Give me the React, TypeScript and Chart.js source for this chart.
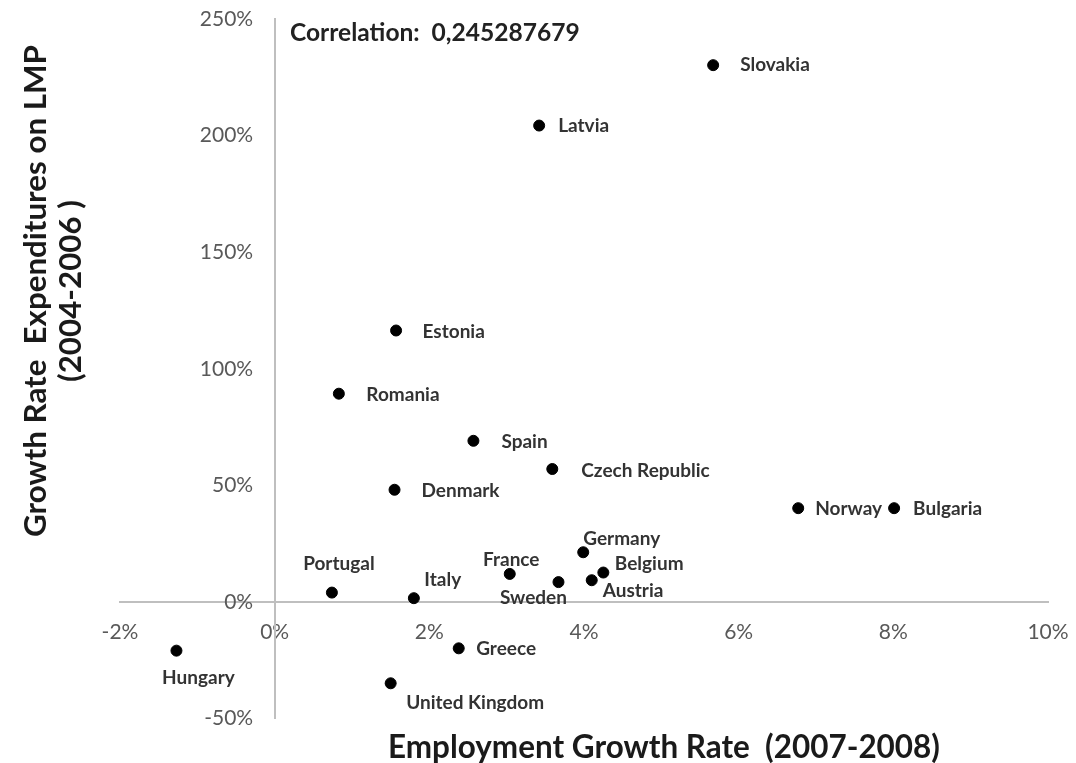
import React, { useEffect, useRef } from "react";
import { Chart, registerables } from "chart.js";

Chart.register(...registerables);

// ---- data ----
const countries = [
  "Slovakia", "Latvia", "Estonia", "Romania", "Spain", "Czech Republic", "Denmark",
  "Norway", "Bulgaria", "Germany", "Belgium", "France", "Sweden", "Austria",
  "Portugal", "Italy", "Greece", "Hungary", "United Kingdom",
];
// Employment growth rate 2007-2008, in %
const employmentGrowth = [
  5.67, 3.42, 1.57, 0.83, 2.57, 3.59, 1.55,
  6.77, 8.01, 3.99, 4.25, 3.04, 3.67, 4.10,
  0.74, 1.80, 2.38, -1.27, 1.50,
];
// Growth rate of expenditures on LMP 2004-2006, in %
const lmpGrowth = [
  230.2, 204.3, 116.4, 89.3, 69.1, 57.0, 48.1,
  40.2, 40.2, 21.3, 12.6, 12.0, 8.5, 9.3,
  4.0, 1.6, -19.9, -20.9, -34.9,
];
const xTickValues = [-2, 0, 2, 4, 6, 8, 10];
const yTickValues = [-50, 0, 50, 100, 150, 200, 250];
const xTitle = "Employment Growth Rate  (2007-2008)";
const yTitleLines = ["Growth Rate  Expenditures on LMP", "(2004-2006 )"];
const correlationText = "Correlation:  0,245287679";

// ---- label placement (style only): [dx, dy, align] relative to the point ----
const labelPlacement: Record<string, [number, number, CanvasTextAlign]> = {
  Slovakia: [27, 0, "left"],
  Latvia: [19, 0.5, "left"],
  Estonia: [26.5, 1, "left"],
  Romania: [27.5, 1.5, "left"],
  Spain: [28, 1, "left"],
  "Czech Republic": [29, 1.5, "left"],
  Denmark: [27, 1.5, "left"],
  Norway: [17, 1, "left"],
  Bulgaria: [19, 1, "left"],
  Germany: [0, -13.5, "left"],
  Belgium: [11.5, -8.5, "left"],
  France: [1.5, -14.5, "center"],
  Sweden: [-25, 15.5, "center"],
  Austria: [11, 10.5, "left"],
  Portugal: [7, -28.5, "center"],
  Italy: [10.5, -18.5, "left"],
  Greece: [17.5, 1, "left"],
  Hungary: [22, 27, "center"],
  "United Kingdom": [15.5, 20, "left"],
};

const FONT = "Lato, 'Open Sans', 'DejaVu Sans', sans-serif";
const Y_LABEL_GAP = "    "; // visual gap between y tick labels and the vertical axis

function fitSize(ctx: CanvasRenderingContext2D, text: string, weight: string, target: number) {
  ctx.font = `${weight} 100px ${FONT}`;
  const w = ctx.measureText(text).width;
  return (100 * target) / w;
}

const labelsPlugin = {
  id: "countryLabels",
  afterDatasetsDraw(chart: any) {
    const ctx = chart.ctx as CanvasRenderingContext2D;
    const meta = chart.getDatasetMeta(0);
    ctx.save();
    ctx.font = `bold 19px ${FONT}`;
    ctx.fillStyle = "#333333";
    ctx.textBaseline = "middle";
    meta.data.forEach((pt: any, i: number) => {
      const name = countries[i];
      const [dx, dy, align] = labelPlacement[name] || [12, 0, "left"];
      ctx.textAlign = align;
      ctx.fillText(name, pt.x + dx, pt.y + dy);
    });
    ctx.restore();
  },
};

const titlesPlugin = {
  id: "titles",
  afterDraw(chart: any) {
    const ctx = chart.ctx as CanvasRenderingContext2D;
    ctx.save();
    ctx.fillStyle = "#1a1a1a";
    ctx.textBaseline = "middle";
    ctx.textAlign = "center";
    // x title
    let s = fitSize(ctx, xTitle, "bold", 552);
    ctx.font = `bold ${s}px ${FONT}`;
    ctx.fillText(xTitle, 664, 748);
    // y title (two lines, rotated)
    s = fitSize(ctx, yTitleLines[0], "bold", 492);
    ctx.font = `bold ${s}px ${FONT}`;
    ctx.save();
    ctx.translate(36, 291);
    ctx.rotate(-Math.PI / 2);
    ctx.fillText(yTitleLines[0], 0, 0);
    ctx.restore();
    ctx.save();
    ctx.translate(71, 291);
    ctx.rotate(-Math.PI / 2);
    ctx.fillText(yTitleLines[1], 0, 0);
    ctx.restore();
    // correlation
    const cs = fitSize(ctx, correlationText, "bold", 290);
    ctx.font = `bold ${cs}px ${FONT}`;
    ctx.textAlign = "left";
    ctx.fillStyle = "#222222";
    ctx.fillText(correlationText, 290, 33);
    ctx.restore();
  },
};

export default function App() {
  const canvasRef = useRef<HTMLCanvasElement | null>(null);

  useEffect(() => {
    if (!canvasRef.current) return;
    const chart = new Chart(canvasRef.current, {
      type: "scatter",
      data: {
        datasets: [
          {
            label: "Countries",
            data: employmentGrowth.map((x, i) => ({ x, y: lmpGrowth[i] })),
            backgroundColor: "#000000",
            borderColor: "#000000",
            pointRadius: 5.5,
            pointHoverRadius: 5.5,
          },
        ],
      },
      options: {
        animation: false,
        responsive: true,
        maintainAspectRatio: false,
        layout: { padding: { left: 120, right: 28, top: 19, bottom: 44.5 } },
        plugins: {
          legend: { display: false },
          tooltip: { enabled: false },
          title: { display: false },
        },
        scales: {
          x: {
            type: "linear",
            min: xTickValues[0],
            max: xTickValues[xTickValues.length - 1],
            position: { y: 0 } as any,
            grid: { display: false, drawTicks: false },
            border: { display: true, color: "#bfbfbf", width: 2 },
            afterBuildTicks: (scale: any) => {
              scale.ticks = xTickValues.map((v) => ({ value: v }));
            },
            ticks: {
              padding: 0,
              color: "#595959",
              font: { family: FONT, size: 21, lineHeight: "60px" as any },
              callback: (v: any) => `${v}%`,
              maxRotation: 0,
              autoSkip: false,
            },
          },
          y: {
            type: "linear",
            min: yTickValues[0],
            max: yTickValues[yTickValues.length - 1],
            position: { x: 0 } as any,
            grid: { display: false, drawTicks: false },
            border: { display: true, color: "#bfbfbf", width: 2 },
            afterBuildTicks: (scale: any) => {
              scale.ticks = yTickValues.map((v) => ({ value: v }));
            },
            ticks: {
              padding: 0,
              color: "#595959",
              font: { family: FONT, size: 21 },
              callback: (v: any) => `${v}%${Y_LABEL_GAP}`,
              autoSkip: false,
            },
          },
        },
      },
      plugins: [labelsPlugin, titlesPlugin],
    });
    return () => chart.destroy();
  }, []);

  return (
    <div
      style={{
        position: "fixed",
        left: 0,
        top: 0,
        width: 1076,
        height: 763,
        background: "#ffffff",
      }}
    >
      <canvas ref={canvasRef} />
    </div>
  );
}
